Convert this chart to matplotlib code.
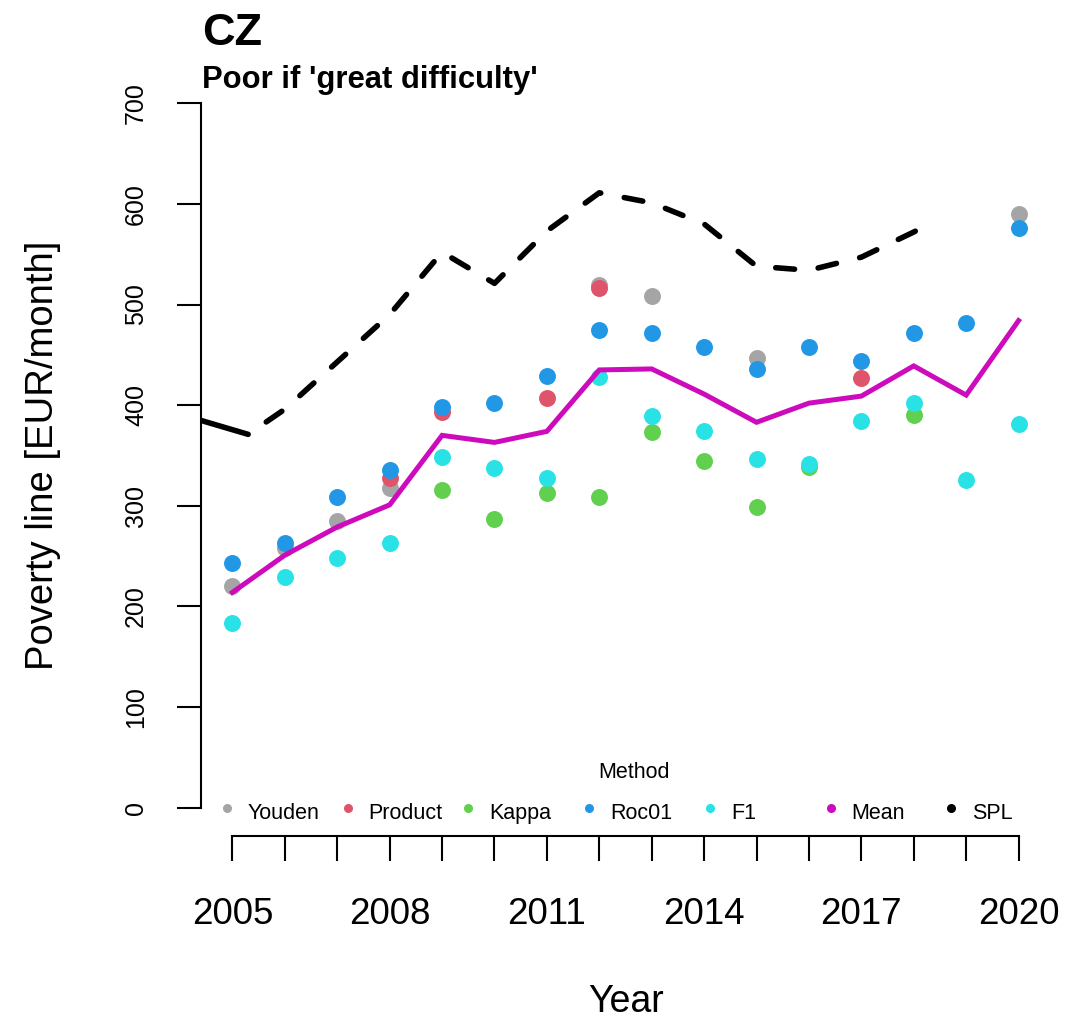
import numpy as np
import matplotlib
matplotlib.use('Agg')
import matplotlib.pyplot as plt

nan = np.nan
years = np.arange(2005, 2021)

youden  = [220, 258, 285, 318, nan, nan, nan, 519, 508, nan, 447, nan, nan, nan, nan, 590]
product = [nan, nan, nan, 328, 393, nan, 407, 516, nan, nan, nan, nan, 427, nan, nan, nan]
kappa   = [nan, nan, nan, nan, 316, 287, 313, 309, 373, 345, 299, 339, nan, 390, nan, nan]
roc01   = [243, 263, 309, 336, 398, 402, 429, 475, 472, 458, 436, 458, 444, 472, 482, 576]
f1      = [184, 229, 248, 263, 349, 338, 328, 428, 389, 374, 347, 342, 384, 402, 326, 381]
mean    = [214, 251, 279, 301, 370, 363, 374, 435, 436, 411, 383, 402, 409, 439, 410, 484]

spl_year  = [2004.0, 2005.3, 2006, 2007, 2008, 2009, 2010, 2011, 2012, 2013, 2014, 2015, 2016, 2017, 2018, 2018.25]
spl_value = [391, 371, 396, 443, 490, 552, 521, 573, 611, 601, 580, 538, 534, 547, 572, 579]

methods = ['Youden', 'Product', 'Kappa', 'Roc01', 'F1']
colors = ['#A5A5A5', '#DF536B', '#61D04F', '#2297E6', '#28E2E5']
mean_col = '#CD0BBC'
xlabels_at = [2005, 2008, 2011, 2014, 2017, 2020]

plt.rcParams['font.family'] = ['Liberation Sans', 'DejaVu Sans']

fig = plt.figure(figsize=(10.83, 10.21), dpi=100)
ax = fig.add_axes([201/1083, (1021-836)/1021, 849/1083, 761/1021])

for vals, c in zip([youden, product, kappa, roc01, f1], colors):
    ax.plot(years, vals, 'o', color=c, markersize=12.2, mew=0, zorder=3)

ax.plot(years, mean, color=mean_col, lw=3.6, zorder=4, solid_joinstyle='miter')

# first bit of the spl line is drawn solid in the original, rest dashed
ax.plot(spl_year[:2], spl_value[:2], color='black', lw=4, solid_capstyle='round', zorder=4)
ax.plot(spl_year[1:], spl_value[1:], color='black', lw=4, linestyle=(3.75, (3.4, 4.3)),
        dash_capstyle='round', zorder=4)

ax.set_xlim(2004.4, 2020.6)
ax.set_ylim(-28, 728)

for s in ['top', 'right']:
    ax.spines[s].set_visible(False)
ax.spines['left'].set_bounds(0, 700)
ax.spines['bottom'].set_bounds(2005, 2020)
ax.spines['left'].set_linewidth(1.5)
ax.spines['bottom'].set_linewidth(1.5)

ax.set_yticks(np.arange(0, 701, 100))
ax.set_yticklabels([str(v) for v in range(0, 701, 100)], rotation=90, va='center', fontsize=18)
ax.set_xticks(years)
ax.set_xticklabels([str(y) if y in xlabels_at else '' for y in years], fontsize=26.5)
ax.tick_params(axis='y', length=17, width=1.5, pad=21)
ax.tick_params(axis='x', length=18, width=1.5, pad=26)

ax.set_xlabel('Year', fontsize=27)
ax.xaxis.set_label_coords(0.5, -0.195)
ax.set_ylabel('Poverty line [EUR/month]', fontsize=27.5)
ax.yaxis.set_label_coords(-0.165, 0.5)

fig.text(202/1083, 1 - 45/1021, 'CZ', fontsize=32.5, fontweight='bold', va='baseline')
fig.text(202/1083, 1 - 88/1021, "Poor if 'great difficulty'", fontsize=22.3, fontweight='bold', va='baseline')

# legend laid out like R's horizontal legend: equal pitch per entry
leg_names = methods + ['Mean', 'SPL']
leg_cols = colors + [mean_col, 'black']
x0 = (227 - 201) / 849
pitch = 120.7 / 849
ly = (836 - 813) / 761
for i, (n, c) in enumerate(zip(leg_names, leg_cols)):
    ax.plot(x0 + i*pitch, ly + 0.006, 'o', color=c, markersize=6.5, mew=0,
            transform=ax.transAxes, clip_on=False)
    ax.text(x0 + i*pitch + 21/849, ly, n, fontsize=15.5, va='center', ha='left',
            transform=ax.transAxes)
ax.text((634 - 201) / 849, (836 - 773) / 761, 'Method', fontsize=15.5, ha='center', va='center',
        transform=ax.transAxes)

fig.savefig('out.png', dpi=100)
